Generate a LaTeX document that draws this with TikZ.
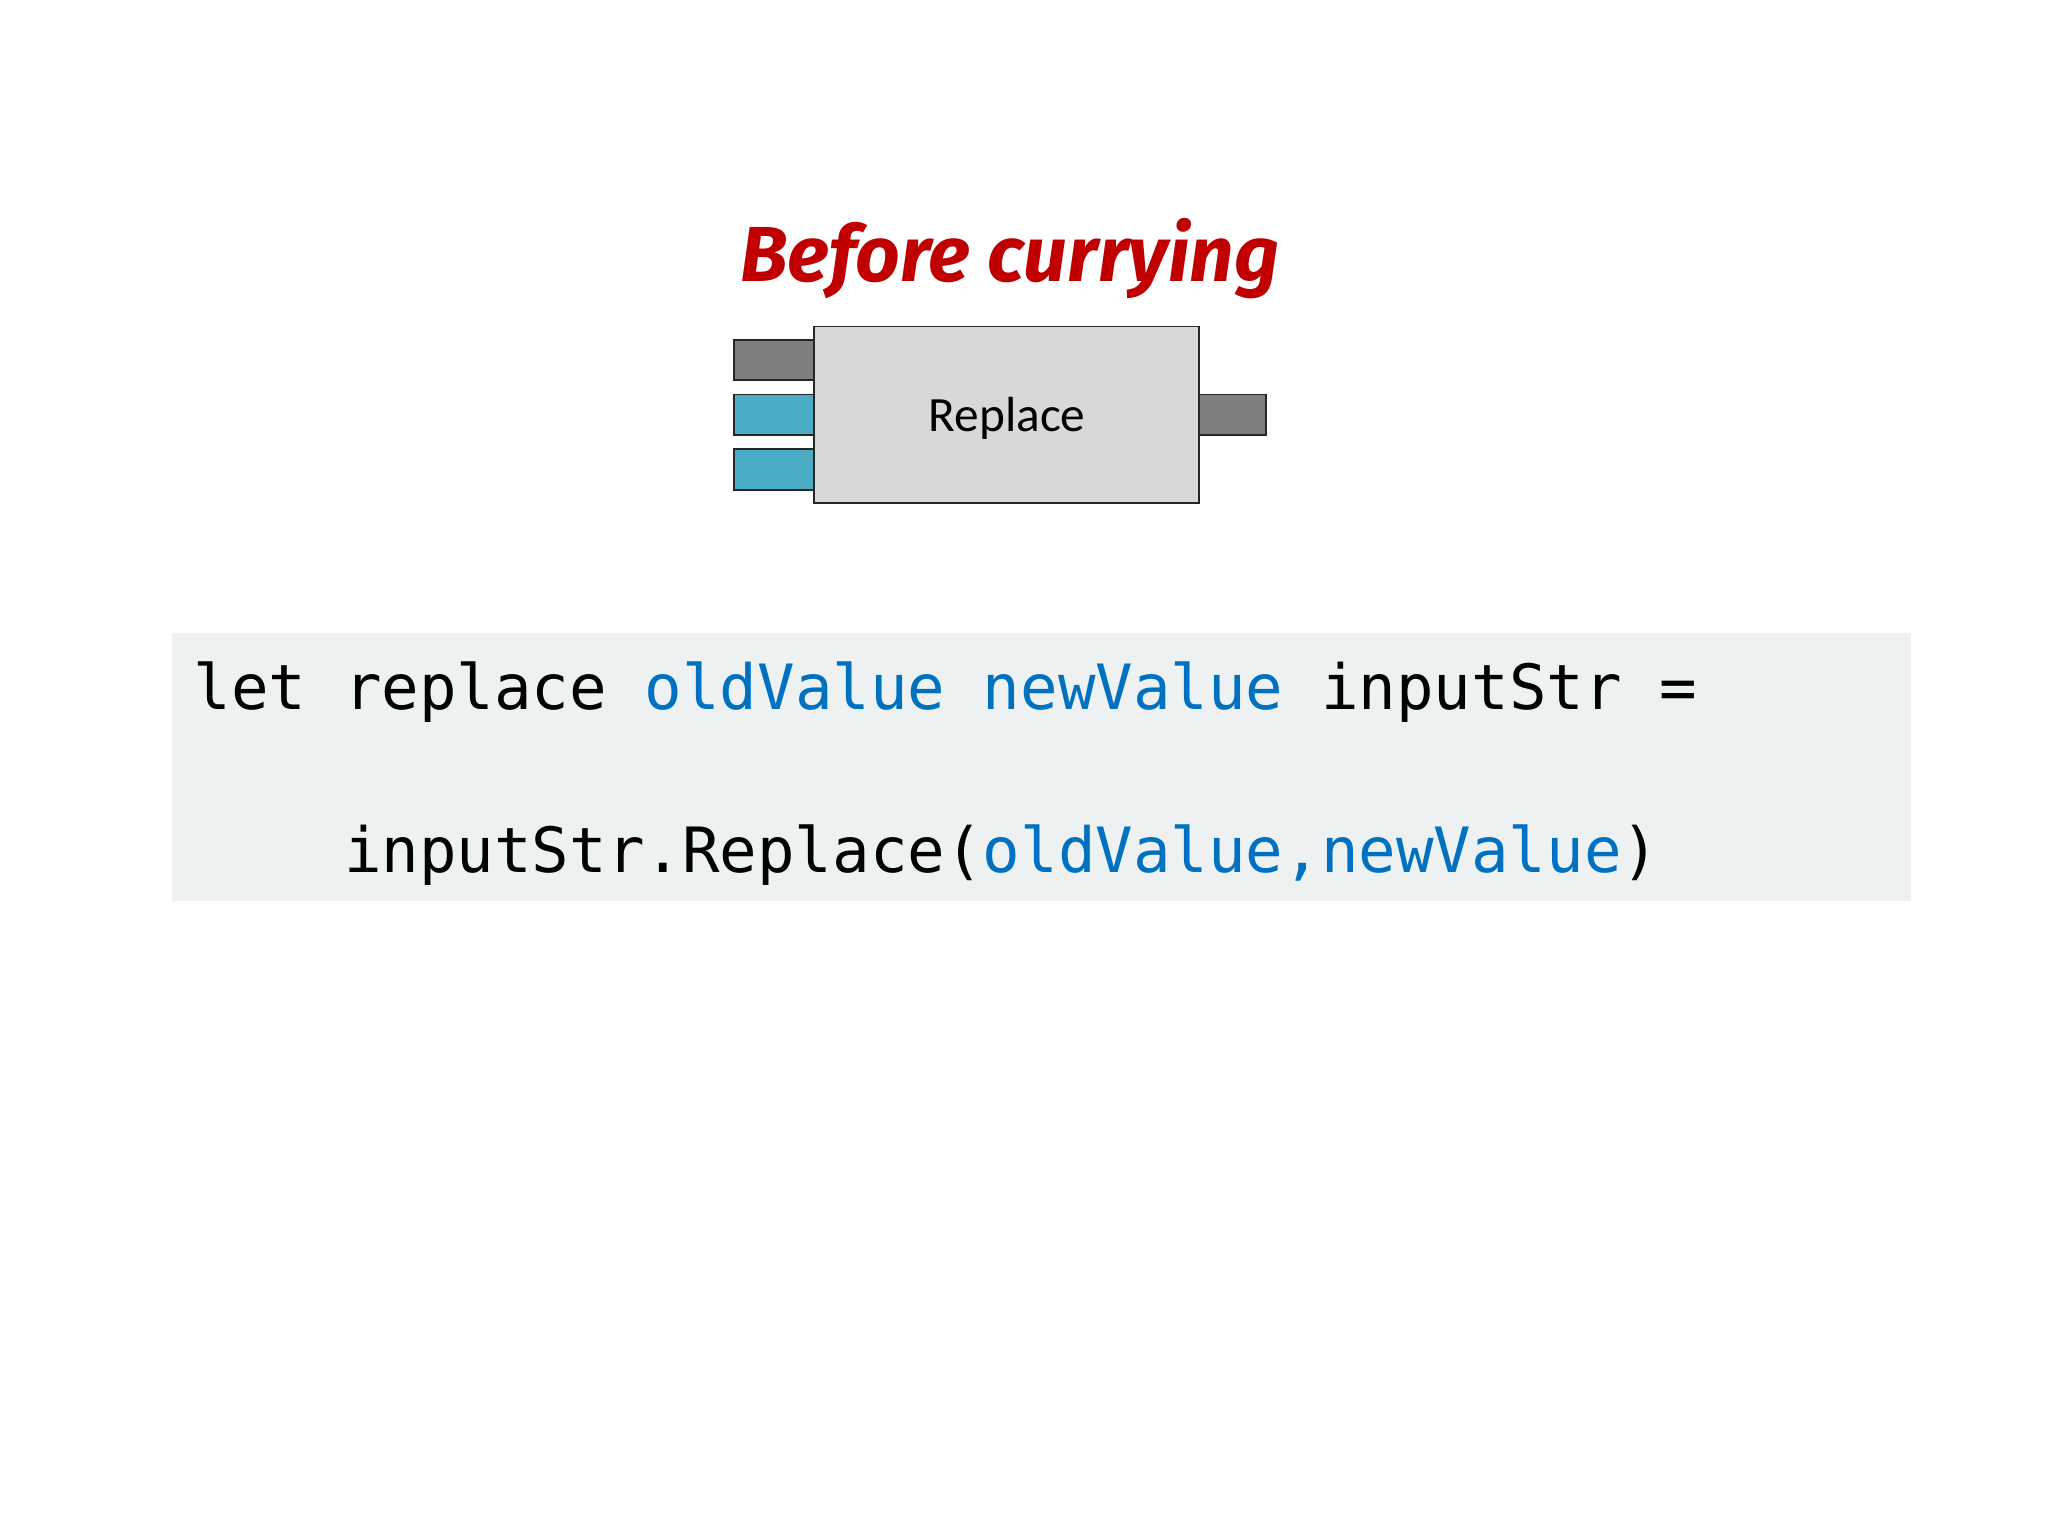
\documentclass[tikz,border=0pt]{standalone}
\usepackage{fontspec}
\setmainfont{Carlito}
\newfontfamily\codefont{DejaVu Sans Mono}
\newfontfamily\handfont{Fira Sans}
\definecolor{titlered}{HTML}{C00000}
\definecolor{boxgray}{HTML}{D9D7D9}
\definecolor{portgray}{HTML}{7F7F7F}
\definecolor{portteal}{HTML}{4BACC6}
\definecolor{codebg}{HTML}{EDF1F1}
\definecolor{kwblue}{HTML}{0070C0}
\begin{document}
\begin{tikzpicture}[x=0.02cm,y=-0.02cm,
  port/.style={draw=black!85,line width=0.8pt},
  codetxt/.style={anchor=base west,inner sep=0,font=\codefont\fontsize{27.2}{30}\selectfont}]
\useasboundingbox (0,0) rectangle (1568,1176);
\fill[white] (0,0) rectangle (1568,1176);
\node[font=\handfont\bfseries\itshape\fontsize{34}{40}\selectfont,text=titlered] (title) at (773,198) {Before currying};
\draw[port,fill=portgray] (562,260) rectangle (623,291);
\draw[port,fill=portteal] (562,302) rectangle (623,333);
\draw[port,fill=portteal] (562,344) rectangle (623,375);
\draw[port,fill=portgray] (918,302) rectangle (969,333);
\draw[port,fill=boxgray] (623,250) rectangle (918,385);
\node[font=\fontsize{21.5}{24}\selectfont] (lbl) at (771,320) {Replace};
\fill[codebg] (132,485) rectangle (1463,690);
\node[codetxt] (l1) at (148,543) {let replace \textcolor{kwblue}{oldValue newValue} inputStr =};
\node[codetxt] (l2) at (148,668) {\phantom{abcd}inputStr.Replace(\textcolor{kwblue}{oldValue,newValue})};
\end{tikzpicture}
\end{document}
